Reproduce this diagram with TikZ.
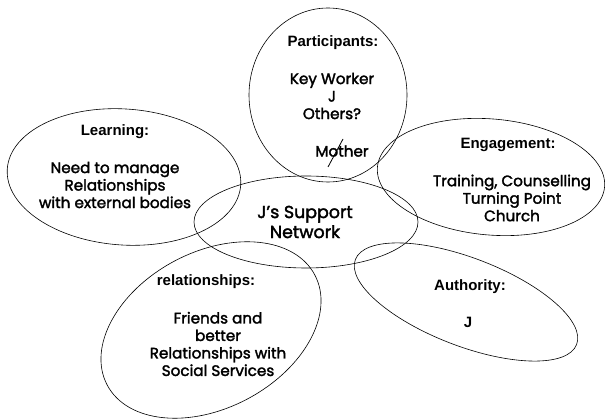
\documentclass[tikz,border=0pt]{standalone}
\usepackage{fontspec}
\setmainfont{Liberation Sans}
\newfontfamily\comic{Poppins}[FakeBold=2]
\usetikzlibrary{shapes.geometric}
\begin{document}
\begin{tikzpicture}[x=1pt,y=-1pt,
  oval/.style={draw, ellipse, line width=0.6pt, inner sep=0pt, outer sep=0pt},
  head/.style={font=\bfseries\fontsize{15}{18}\selectfont, inner sep=0pt},
  body/.style={font=\comic\fontsize{15.2}{17.5}\selectfont, align=center, inner sep=0pt},
  big/.style={font=\comic\fontsize{17.4}{20}\selectfont, align=center, inner sep=0pt},
]
\useasboundingbox (0,0) rectangle (605,419);
\node[oval, minimum width=158, minimum height=174] (partE) at (328,95) {};
\node[oval, minimum width=234, minimum height=136, rotate=-4] (learnE) at (124,177) {};
\node[oval, minimum width=224, minimum height=92] (centerE) at (306,222) {};
\node[oval, minimum width=228, minimum height=116, rotate=-5] (engE) at (491,177) {};
\node[oval, minimum width=235, minimum height=156, rotate=28] (relE) at (211,330) {};
\node[oval, minimum width=237, minimum height=88, rotate=-21] (authE) at (466,302) {};

\node[head] (partH) at (333,43) {Participants:};
\node[body] (partB) at (332,96) {Key Worker\\J\\Others?};
\node[body] (mother) at (342,151) {Mother};
\coordinate (s1) at (328,167);
\coordinate (s2) at (343,139);
\draw[line width=0.8pt] (s1) -- (s2);

\node[head] (learnH) at (115,132) {Learning:};
\node[body] (learnB) at (115,185) {Need to manage\\Relationships\\with external bodies};

\node[big] (centerT) at (305,222) {J’s Support\\Network};

\node[head] (engH) at (508,145) {Engagement:};
\node[body] (engB) at (512,198) {Training, Counselling\\Turning Point\\Church};

\node[head] (relH) at (206,282) {relationships:};
\node[body] (relB) at (218,344) {Friends and\\better\\Relationships with\\Social Services};

\node[head] (authH) at (470,287) {Authority:};
\node[head] (authB) at (468,322) {J};
\end{tikzpicture}
\end{document}
